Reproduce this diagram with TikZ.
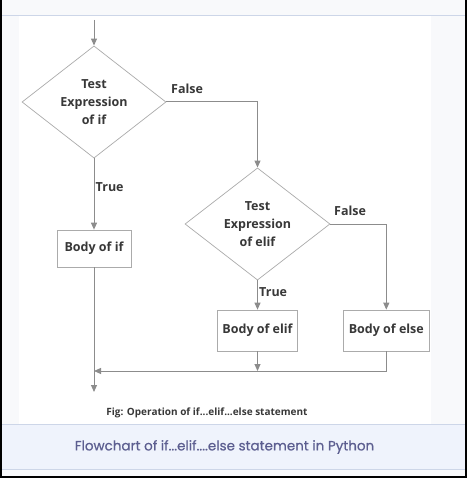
\documentclass[tikz,border=0pt]{standalone}
\usepackage{fontspec}
\setmainfont{Open Sans}
\newfontfamily\bandfont[FakeBold=0.6]{Poppins}
\usetikzlibrary{shapes.geometric, arrows.meta}
\definecolor{linegrey}{HTML}{8C8C8C}
\definecolor{shapegrey}{HTML}{ABABAB}
\definecolor{labeltext}{HTML}{383838}
\definecolor{pagegrey}{HTML}{F8F9FB}
\definecolor{bandfill}{HTML}{EFF3FC}
\definecolor{bandline}{HTML}{CDD6E8}
\definecolor{bandtext}{HTML}{5C5E90}

\begin{document}
\begin{tikzpicture}[x=1pt, y=-1pt,
  decision/.style={diamond, draw=shapegrey, line width=0.7pt, inner sep=0pt,
    minimum width=144pt, minimum height=112pt, align=center, text=labeltext,
    font=\fontsize{12.5}{18}\selectfont\bfseries},
  block/.style={rectangle, draw=shapegrey, line width=0.7pt, inner sep=0pt,
    minimum height=#1, text=labeltext, font=\fontsize{12.5}{14}\selectfont\bfseries},
  flow/.style={draw=linegrey, line width=1pt, -{Triangle[length=7pt,width=6pt]}},
  tag/.style={anchor=west, inner sep=0pt, text=labeltext,
    font=\fontsize{12.5}{14}\selectfont\bfseries}]
\useasboundingbox (0,0) rectangle (467,478);
% page and frame
\fill[black] (0,0) rectangle (467,478);
\fill[pagegrey] (2,0) rectangle (465,476);
\fill[white] (19,16.5) rectangle (431,424);
\draw[bandline, line width=1pt] (2,16) -- (465,16);
\fill[bandfill] (2,424) rectangle (465,469.5);
\draw[bandline, line width=1pt] (2,424) -- (465,424);
\draw[bandline, line width=1pt] (2,469.5) -- (465,469.5);

% decisions
\node[decision] (testif) at (94,102) {Test\\Expression\\of if};
\node[decision, minimum width=145pt] (testelif) at (257.5,224) {Test\\Expression\\of elif};

% bodies
\node[block=37pt, minimum width=74pt] (bodyif) at (94,248.5) {Body of if};
\node[block=41pt, minimum width=80.5pt] (bodyelif) at (257.5,330.5) {Body of elif};
\node[block=41pt, minimum width=86pt] (bodyelse) at (386.3,330.5) {Body of else};

\coordinate (entry) at (94,20);
\coordinate (join) at (94,371);
\coordinate (exit) at (94,392);

% connectors
\draw[flow] (entry) -- (testif.north);
\draw[flow] (testif.south) -- (bodyif.north);
\draw[flow] (testif.east) -| (testelif.north);
\draw[flow] (testelif.south) -- (bodyelif.north);
\draw[flow] (testelif.east) -| (bodyelse.north);
\draw[flow] (bodyif.south) -- (exit);
\draw[flow] (bodyelse.south) |- (join);
\draw[flow] (bodyelif.south) -- (bodyelif.south |- join);

% labels
\node[tag] (falseif) at (171,89) {False};
\node[tag] (trueif) at (95.5,187) {True};
\node[tag] (falseelif) at (334,211) {False};
\node[tag] (trueelif) at (259,292.5) {True};

\node[text=labeltext, inner sep=0pt, font=\fontsize{10}{12}\selectfont\bfseries]
  (figcap) at (207,412.5) {Fig: Operation of if...elif...else statement};
\node[text=bandtext, inner sep=0pt, font=\bandfont\fontsize{13.5}{16}\selectfont]
  (bandcap) at (224.5,447) {Flowchart of if...elif....else statement in Python};
\end{tikzpicture}
\end{document}
